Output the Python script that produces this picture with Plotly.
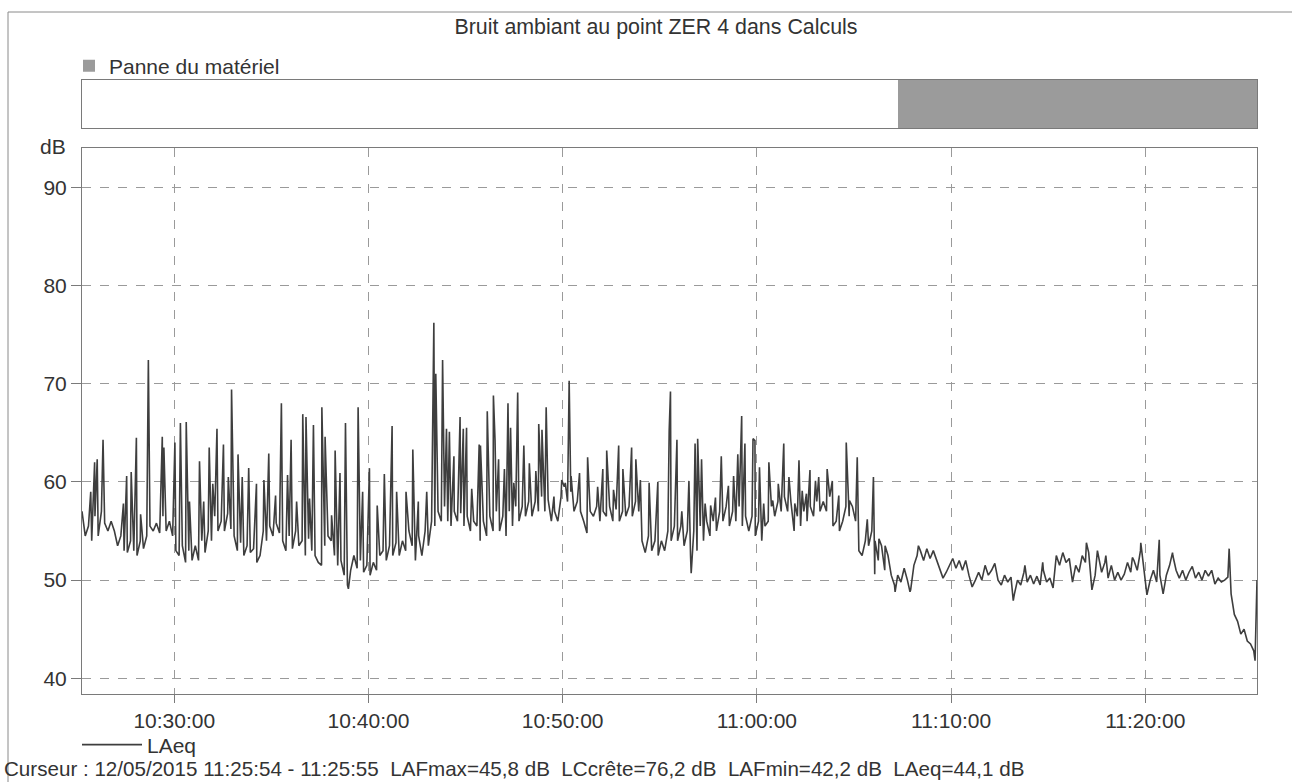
import pandas as pd
import plotly.graph_objects as go

# ---------------- data ----------------
day = "2015-05-12"
ref_time = "10:30:00"            # offsets below are seconds relative to this time
base_start_s = -285              # first 10-s sample: 10:25:15
base_step_s = 10

# LAeq, 10-second samples (dB)
laeq_10s = [
    57.0, 54.5, 55.5, 54.0, 56.5, 54.5, 57.0, 55.8, 55.0, 56.0,
    55.0, 53.5, 54.5, 53.0, 52.8, 54.0, 53.0, 52.5, 54.0, 53.2,
    54.5, 55.5, 55.0, 55.8, 54.8, 56.5, 55.0, 56.0, 54.5, 53.0,
    52.5, 53.5, 51.8, 53.0, 52.0, 53.5, 52.0, 54.0, 52.8, 55.0,
    54.0, 56.5, 55.0, 56.0, 55.0, 56.8, 55.2, 54.5, 53.0, 53.8,
    52.5, 53.5, 52.8, 53.2, 51.8, 52.5, 55.0, 54.0, 55.5, 54.5,
    55.8, 54.8,
    54.0, 53.0, 54.5, 53.2, 55.0, 53.5, 54.0, 52.5, 54.2, 53.0,
    52.5, 51.8, 51.5, 53.5, 54.5, 54.0, 52.5, 51.5, 52.0, 50.5,
    49.5, 51.0, 52.5, 51.2, 52.0, 50.8, 51.5, 50.5, 51.8, 51.0,
    52.5, 53.0, 52.0, 53.5, 52.5, 53.8, 52.5, 54.0, 53.0, 55.0,
    53.5, 52.0, 54.5, 52.5, 55.0, 53.5, 56.0, 55.5, 57.0, 56.0,
    57.5, 56.0, 55.5, 57.0, 56.0, 56.8, 55.5, 56.5, 55.0, 56.0,
    55.5,
    54.0, 56.0, 54.5, 56.5, 55.0, 57.0, 55.0, 56.5, 54.5, 57.0,
    55.5, 57.5, 56.0, 57.5, 56.5, 58.0, 56.5, 58.0, 57.0, 58.5,
    57.0, 58.2, 56.0, 57.0, 56.0, 58.5, 59.5, 58.0, 59.0, 57.0,
    58.0, 57.0, 56.0, 54.8, 57.0, 56.5, 57.5, 56.0, 57.0, 56.5,
    57.5, 56.0, 57.2, 56.0, 57.0, 56.5, 57.5, 56.5, 58.0, 57.0,
    54.0, 52.8, 54.5, 53.0, 54.0, 52.5, 54.0, 53.0, 55.0, 54.0,
    55.5,
    54.0, 55.5, 53.5, 55.0, 52.5, 55.0, 53.0, 55.5, 54.0, 56.0,
    54.5, 56.0, 55.0, 57.0, 56.0, 57.5, 55.5, 57.0, 56.0, 57.5,
    55.5, 56.5, 55.0, 56.5, 54.5, 56.0, 54.0, 55.5, 56.0, 57.5,
    56.5, 58.0, 57.0, 58.5, 57.0, 58.0, 55.0, 56.5, 55.5, 57.0,
    56.0, 57.5, 56.5, 58.0, 57.0, 58.0, 57.0, 58.5, 55.5, 56.0,
    55.0, 56.0, 57.5, 56.5, 57.5, 56.0, 53.0, 52.5, 54.0, 53.5,
    55.0,
    54.0, 52.0, 53.5, 51.0, 52.5, 50.5, 49.5, 50.5, 49.8, 51.2,
    50.0, 49.0, 51.5, 52.5, 53.0, 52.0, 53.2, 52.2, 53.0, 52.0,
    51.0, 50.2, 50.8, 51.5, 52.2, 51.2, 52.0, 51.0, 52.0, 50.5,
    49.3, 50.0, 50.8, 50.0, 51.5, 50.5, 51.0, 51.7, 50.0, 49.5,
    50.5, 49.8, 50.3, 48.5, 50.0, 49.5, 50.8, 49.8, 50.5, 49.6,
    50.4, 49.5, 51.0, 49.8, 50.2, 49.2, 52.5, 51.5, 52.8, 51.8,
    52.2,
    49.8, 51.5, 50.8, 52.5, 51.8, 52.8, 49.0, 50.5, 52.5, 50.8,
    51.8, 50.2, 51.5, 50.0, 50.8, 50.0, 50.6, 51.8, 50.8, 52.0,
    51.0, 53.0, 51.5, 48.5, 50.0, 51.0, 49.8, 50.5, 48.6, 50.5,
    51.5, 52.5, 51.0, 50.2, 51.0, 50.0, 50.8, 51.4, 50.2, 50.8,
    50.0, 51.0, 50.4, 51.0, 49.6, 50.2, 49.8, 50.0, 50.3, 48.6,
    46.5, 45.8, 44.5, 45.0, 43.8, 43.5, 42.8, 50.0,
]

# short events (peaks / dips) between the 10-s samples: offset (s) and level (dB)
spike_offset_s = [
    -258, -246, -238, -220, -157, -147, -133, -117, -104, -80,
    -37, -32, 2, 19, 37, 47, 78, 91, 108, 119,
    132, 152, 167, 177, 197, 210, 230, 254, 277, 292,
    313, 331,
    350, 361, 378, 397, 407, 418, 430, 456, 466, 486,
    497, 512, 529, 538, 568, 582, 603, 627, 649, 673,
    687, 716, 737, 754, 780, 802, 808, 829, 841, 850,
    864, 883, 893, 903, 919, 942,
    946, 967, 986, 991, 1002, 1020, 1031, 1039, 1049, 1061,
    1080, 1097, 1117, 1126, 1136, 1149, 1173, 1197, 1208, 1220,
    1226, 1252, 1277, 1308, 1324, 1336, 1357, 1373, 1386, 1413,
    1426, 1440, 1467, 1494, 1529, 1533, 1553,
    1568, 1590, 1597, 1609, 1617, 1629, 1640, 1657, 1672, 1690,
    1712, 1728, 1741, 1753, 1763, 1788, 1794, 1808, 1821, 1837,
    1849, 1866, 1883, 1899, 1917, 1930, 1940, 1953, 1964, 1981,
    1991, 2017, 2033, 2053, 2076, 2086, 2110, 2141, 2160, 2164,
    2177, 2196, 2227, 2273, 2299, 2592, 2628, 2683,
    2818, 2852, 2878, 2960, 2986, 3043, 3084, 3259, 3339,
]
spike_laeq = [
    59.0, 62.0, 62.3, 64.3, 57.8, 60.6, 61.0, 64.5, 56.7, 72.4,
    64.6, 63.5, 64.0, 66.0, 66.1, 58.0, 62.1, 58.0, 63.5, 59.8,
    65.4, 63.8, 60.5, 69.4, 62.8, 60.5, 61.4, 59.8, 60.2, 62.9,
    58.6, 68.0,
    60.7, 64.3, 58.0, 66.9, 66.6, 58.3, 65.8, 67.6, 64.6, 56.6,
    63.2, 60.9, 66.0, 49.1, 67.6, 59.0, 61.4, 57.6, 60.8, 65.7,
    59.0, 59.0, 63.3, 58.0, 59.0, 76.2, 71.0, 72.4, 65.4, 65.1,
    62.6, 66.6, 65.4, 65.5, 59.3, 63.8,
    63.7, 67.2, 68.8, 64.3, 62.3, 61.3, 68.0, 65.5, 59.9, 69.1,
    63.7, 61.9, 61.1, 65.9, 65.3, 67.6, 58.5, 60.2, 59.9, 70.3,
    60.6, 60.9, 62.5, 59.5, 61.3, 63.2, 59.2, 63.7, 61.3, 63.5,
    62.3, 60.2, 59.9, 60.0, 65.2, 69.2, 64.3,
    57.0, 60.1, 50.7, 63.9, 64.4, 62.3, 57.8, 57.6, 58.4, 62.6,
    59.6, 60.6, 62.8, 66.7, 63.9, 64.4, 64.2, 61.5, 57.8, 62.0,
    58.1, 59.8, 63.9, 60.5, 57.8, 62.2, 59.1, 58.8, 61.2, 60.1,
    60.5, 61.3, 60.1, 58.6, 64.0, 58.1, 62.5, 56.2, 60.5, 50.6,
    54.2, 53.5, 48.8, 48.8, 53.5, 47.9, 51.5, 51.8,
    53.8, 53.0, 52.5, 52.3, 53.8, 54.1, 52.8, 53.2, 41.8,
]

panne_start = "11:07:15"
panne_name = "Panne du matériel"
series_name = "LAeq"
y_tick_values = [40, 50, 60, 70, 80, 90]
x_tick_step_min = 10
title_text = "Bruit ambiant au point ZER 4 dans Calculs"
y_unit = "dB"
cursor_text = ("Curseur : 12/05/2015 11:25:54 - 11:25:55  LAFmax=45,8 dB  "
               "LCcrête=76,2 dB  LAFmin=42,2 dB  LAeq=44,1 dB")

# ---------------- build series ----------------
t_ref = pd.Timestamp(f"{day} {ref_time}")
base_t = [t_ref + pd.Timedelta(seconds=base_start_s + base_step_s * i)
          for i in range(len(laeq_10s))]
n = min(len(spike_offset_s), len(spike_laeq))
spike_t = [t_ref + pd.Timedelta(seconds=s) for s in spike_offset_s[:n]]
df = pd.DataFrame({"t": base_t + spike_t, "v": laeq_10s + spike_laeq[:n]})
df = df.sort_values("t", kind="stable")

t_start = base_t[0]
t_end = base_t[-1]
p_start = pd.Timestamp(f"{day} {panne_start}")
p_width_ms = (t_end - p_start).total_seconds() * 1000.0

# ---------------- layout geometry ----------------
W, H = 1292, 782
def px(x):
    return x / W
def py(y):
    return 1 - y / H

FONT = "Liberation Sans, Arial, sans-serif"
TXT = "#333333"
AX = "#7a7a7a"
GRID = "#9a9a9a"
FS = 21

fig = go.Figure()

fig.add_trace(go.Bar(
    x=[p_start], y=[1], base=[0], width=[p_width_ms], offset=0,
    marker=dict(color="#9b9b9b", line=dict(width=0)),
    name=panne_name, xaxis="x2", yaxis="y2", legend="legend",
    hoverinfo="skip",
))

fig.add_trace(go.Scatter(
    x=df["t"], y=df["v"], mode="lines",
    line=dict(color="#3e3e3e", width=1.6),
    name=series_name, legend="legend2",
))

xdom = [px(82), px(1257)]
common_x = dict(
    domain=xdom, type="date", range=[t_start, t_end],
    showline=True, mirror=True, linecolor=AX, linewidth=1,
    zeroline=False,
)

fig.update_layout(
    width=W, height=H,
    margin=dict(l=0, r=0, t=0, b=0),
    paper_bgcolor="white", plot_bgcolor="white",
    font=dict(family=FONT, size=FS, color=TXT),
    showlegend=True,
    title=dict(text=title_text, x=px(656), y=py(27), xanchor="center",
               yanchor="middle", xref="paper", yref="paper",
               font=dict(family=FONT, size=21.4, color=TXT)),
    xaxis=dict(
        **common_x, anchor="y",
        tick0=t_ref, dtick=x_tick_step_min * 60 * 1000, tickformat="%H:%M:%S",
        ticks="outside", ticklen=8, tickcolor=AX, tickwidth=1,
        showgrid=True, gridcolor=GRID, griddash="dash", gridwidth=1,
        tickfont=dict(family=FONT, size=FS, color=TXT),
        automargin=False,
    ),
    yaxis=dict(
        domain=[py(694), py(148)], anchor="x", range=[38.4, 94],
        tickvals=y_tick_values, ticks="outside", ticklen=10,
        tickcolor=AX, tickwidth=1,
        showline=True, mirror=True, linecolor=AX, linewidth=1,
        showgrid=True, gridcolor=GRID, griddash="dash", gridwidth=1,
        zeroline=False,
        tickfont=dict(family=FONT, size=FS, color=TXT),
        automargin=False,
    ),
    xaxis2=dict(
        **common_x, anchor="y2", matches="x",
        showticklabels=False, ticks="", showgrid=False,
    ),
    yaxis2=dict(
        domain=[py(128), py(80)], anchor="x2", range=[0, 1],
        showticklabels=False, ticks="", showgrid=False, zeroline=False,
        showline=True, mirror=True, linecolor=AX, linewidth=1,
    ),
    legend=dict(
        x=px(69), y=py(66), xanchor="left", yanchor="middle",
        bgcolor="rgba(0,0,0,0)", borderwidth=0,
        font=dict(family=FONT, size=FS, color=TXT),
    ),
    legend2=dict(
        x=px(77), y=py(745), xanchor="left", yanchor="middle",
        bgcolor="rgba(0,0,0,0)", borderwidth=0, itemwidth=60,
        font=dict(family=FONT, size=FS, color=TXT),
    ),
    bargap=0,
    annotations=[
        dict(text=y_unit, x=px(53), y=py(146), xref="paper", yref="paper",
             showarrow=False, xanchor="center", yanchor="middle",
             font=dict(family=FONT, size=FS, color=TXT)),
        dict(text=cursor_text, x=px(2), y=py(768), xref="paper", yref="paper",
             showarrow=False, xanchor="left", yanchor="middle",
             font=dict(family=FONT, size=20.6, color=TXT)),
    ],
    shapes=[
        dict(type="line", xref="paper", yref="paper",
             x0=px(8), x1=1.0, y0=py(12), y1=py(12),
             line=dict(color="#8a8a8a", width=1)),
        dict(type="line", xref="paper", yref="paper",
             x0=px(8), x1=px(8), y0=py(12), y1=0.0,
             line=dict(color="#8a8a8a", width=1)),
    ],
)

fig.write_html("out.html")
